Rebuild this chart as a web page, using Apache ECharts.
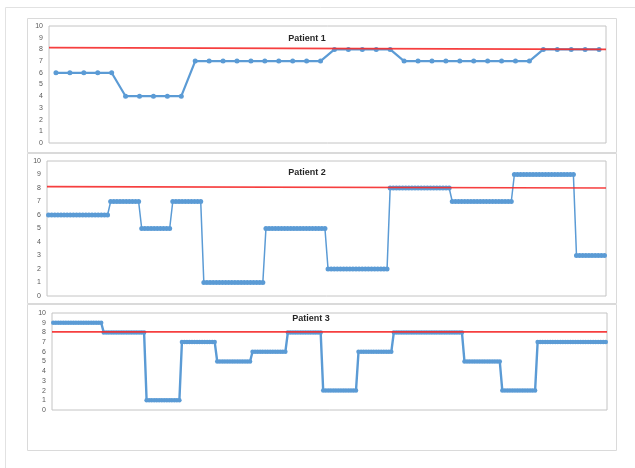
<!DOCTYPE html>
<html>
<head>
<meta charset="utf-8">
<script src="https://cdn.jsdelivr.net/npm/echarts@6/dist/echarts.min.js"></script>
<style>
  html, body { margin: 0; padding: 0; background: #ffffff; }
  #chart { width: 635px; height: 468px; }
</style>
</head>
<body>
<div id="chart"></div>
<script>
// Panel titles
const titles = ['Patient 1', 'Patient 2', 'Patient 3'];

// Y axis ticks shared by all panels
const yTicks = [0, 1, 2, 3, 4, 5, 6, 7, 8, 9, 10];

// Scores per reading, Patient 1
const patient1 = [
  6, 6, 6, 6, 6,
  4, 4, 4, 4, 4,
  7, 7, 7, 7, 7, 7, 7, 7, 7, 7,
  8, 8, 8, 8, 8,
  7, 7, 7, 7, 7, 7, 7, 7, 7, 7,
  8, 8, 8, 8, 8
];

// Scores per reading, Patient 2
const patient2 = [
  6, 6, 6, 6, 6, 6, 6, 6, 6, 6, 6, 6, 6, 6, 6, 6, 6, 6, 6, 6,
  7, 7, 7, 7, 7, 7, 7, 7, 7, 7,
  5, 5, 5, 5, 5, 5, 5, 5, 5, 5,
  7, 7, 7, 7, 7, 7, 7, 7, 7, 7,
  1, 1, 1, 1, 1, 1, 1, 1, 1, 1, 1, 1, 1, 1, 1, 1, 1, 1, 1, 1,
  5, 5, 5, 5, 5, 5, 5, 5, 5, 5, 5, 5, 5, 5, 5, 5, 5, 5, 5, 5,
  2, 2, 2, 2, 2, 2, 2, 2, 2, 2, 2, 2, 2, 2, 2, 2, 2, 2, 2, 2,
  8, 8, 8, 8, 8, 8, 8, 8, 8, 8, 8, 8, 8, 8, 8, 8, 8, 8, 8, 8,
  7, 7, 7, 7, 7, 7, 7, 7, 7, 7, 7, 7, 7, 7, 7, 7, 7, 7, 7, 7,
  9, 9, 9, 9, 9, 9, 9, 9, 9, 9, 9, 9, 9, 9, 9, 9, 9, 9, 9, 9,
  3, 3, 3, 3, 3, 3, 3, 3, 3, 3
];

// Scores per reading, Patient 3
const patient3 = [
  9, 9, 9, 9, 9, 9, 9, 9, 9, 9, 9, 9, 9, 9, 9, 9, 9, 9, 9, 9,
  8, 8, 8, 8, 8, 8, 8, 8, 8, 8, 8, 8, 8, 8, 8, 8, 8,
  1, 1, 1, 1, 1, 1, 1, 1, 1, 1, 1, 1, 1, 1,
  7, 7, 7, 7, 7, 7, 7, 7, 7, 7, 7, 7, 7, 7,
  5, 5, 5, 5, 5, 5, 5, 5, 5, 5, 5, 5, 5, 5,
  6, 6, 6, 6, 6, 6, 6, 6, 6, 6, 6, 6, 6, 6,
  8, 8, 8, 8, 8, 8, 8, 8, 8, 8, 8, 8, 8, 8,
  2, 2, 2, 2, 2, 2, 2, 2, 2, 2, 2, 2, 2, 2,
  6, 6, 6, 6, 6, 6, 6, 6, 6, 6, 6, 6, 6, 6,
  8, 8, 8, 8, 8, 8, 8, 8, 8, 8, 8, 8, 8, 8, 8, 8, 8, 8, 8, 8, 8, 8, 8, 8, 8, 8, 8, 8,
  5, 5, 5, 5, 5, 5, 5, 5, 5, 5, 5, 5, 5, 5, 5,
  2, 2, 2, 2, 2, 2, 2, 2, 2, 2, 2, 2, 2, 2,
  7, 7, 7, 7, 7, 7, 7, 7, 7, 7, 7, 7, 7, 7, 7, 7, 7, 7, 7, 7, 7, 7, 7, 7, 7, 7, 7, 7
];

// Threshold line: value at the left edge and at the right edge of each panel
const thresholdStart = [8.15, 8.1, 8.05];
const thresholdEnd = [8.0, 8.0, 8.05];

const series = [patient1, patient2, patient3];

// Layout of each panel: plot area and surrounding box
const grids = [
  { left: 49, top: 26, width: 557, height: 117 },
  { left: 47, top: 161, width: 559, height: 135 },
  { left: 52, top: 313, width: 555, height: 97 }
];
const boxes = [
  { x: 27, y: 18, w: 589, h: 134 },
  { x: 27, y: 153, w: 589, h: 150 },
  { x: 27, y: 304, w: 589, h: 146 }
];
const lineStyles = [
  { width: 2.2, symbolSize: 5 },
  { width: 1.5, symbolSize: 5 },
  { width: 2.4, symbolSize: 4.5 }
];
const titleY = [39, 173, 319];
const titleX = [307, 307, 311];

const BLUE = '#5B9BD5';
const RED = '#F52A2A';

const option = {
  backgroundColor: '#ffffff',
  animation: false,
  grid: grids.map(g => Object.assign({
    show: true, borderColor: '#C4C4C4', borderWidth: 1, backgroundColor: 'transparent'
  }, g)),
  xAxis: [],
  yAxis: [],
  series: [],
  graphic: []
};

// Page frame
option.graphic.push({
  type: 'rect', silent: true, z: -10,
  shape: { x: 5.5, y: 7.5, width: 660, height: 480 },
  style: { fill: 'none', stroke: '#E2E2E2', lineWidth: 1 }
});

boxes.forEach(b => {
  option.graphic.push({
    type: 'rect', silent: true, z: -5,
    shape: { x: b.x + 0.5, y: b.y + 0.5, width: b.w, height: b.h },
    style: { fill: 'none', stroke: '#DADADA', lineWidth: 1 }
  });
});

series.forEach((data, i) => {
  // category axis for readings
  option.xAxis.push({
    type: 'category', gridIndex: i, boundaryGap: true,
    data: data.map((_, k) => String(k + 1)),
    axisLine: { show: false }, axisTick: { show: false },
    axisLabel: { show: false }, splitLine: { show: false }
  });
  // hidden 0..1 axis spanning the full plot width, for the threshold line
  option.xAxis.push({
    type: 'value', gridIndex: i, min: 0, max: 1, show: false
  });
  option.yAxis.push({
    type: 'value', gridIndex: i,
    min: yTicks[0], max: yTicks[yTicks.length - 1], interval: 1,
    axisLine: { show: false }, axisTick: { show: false },
    splitLine: { show: false },
    axisLabel: { fontSize: 7, color: '#595959', margin: 6, fontFamily: 'Liberation Sans' }
  });

  option.series.push({
    type: 'line', xAxisIndex: i * 2, yAxisIndex: i,
    data: data,
    symbol: 'circle', symbolSize: lineStyles[i].symbolSize,
    showSymbol: true, showAllSymbol: true,
    lineStyle: { color: BLUE, width: lineStyles[i].width },
    itemStyle: { color: BLUE, borderWidth: 0 },
    z: 2
  });

  option.series.push({
    type: 'line', xAxisIndex: i * 2 + 1, yAxisIndex: i,
    data: [[0, thresholdStart[i]], [1, thresholdEnd[i]]],
    showSymbol: false, symbol: 'none',
    lineStyle: { color: RED, width: 1.6, opacity: 0.9 },
    z: 3
  });

  option.graphic.push({
    type: 'text', silent: true, z: 10,
    x: titleX[i], y: titleY[i],
    style: {
      text: titles[i], fill: '#262626',
      font: 'bold 9px "Liberation Sans", Arial, sans-serif',
      textAlign: 'center', textVerticalAlign: 'middle'
    }
  });
});

const chart = echarts.init(document.getElementById('chart'), null, { renderer: 'canvas' });
chart.setOption(option);
</script>
</body>
</html>
